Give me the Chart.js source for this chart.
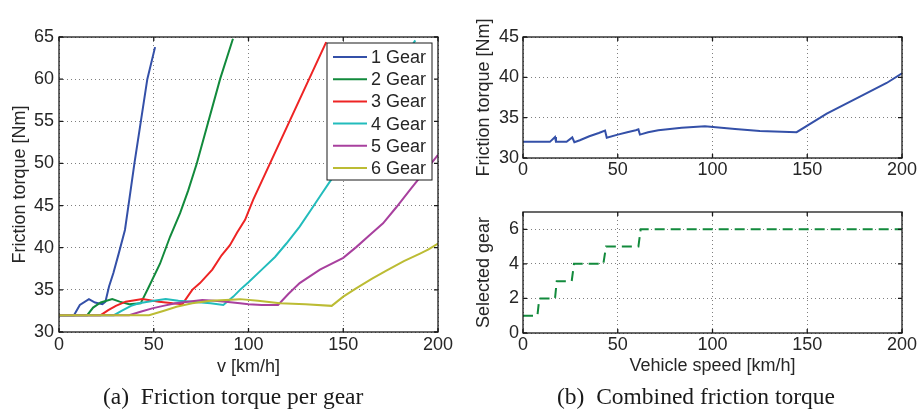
<!DOCTYPE html>
<html lang="en">

<head>
    <meta charset="UTF-8" />
    <title>Friction torque</title>
    <script src="https://cdn.jsdelivr.net/npm/chart.js"></script>
    <style>
        body {
            margin: 0;
            background: #fff;
            width: 917px;
            height: 417px;
            position: relative;
            overflow: hidden;
        }

        canvas {
            position: absolute;
        }

        #perGear { left: 0; top: 0; }
        #combined { left: 460px; top: 0; }
        #selected { left: 460px; top: 180px; }

        .caption {
            position: absolute;
            top: 384px;
            font-family: "Liberation Serif", "Times New Roman", serif;
            font-size: 23.5px;
            line-height: 24px;
            color: #1a1a1a;
            white-space: pre;
        }
    </style>
</head>

<body>
    <canvas id="perGear" width="460" height="390"></canvas>
    <canvas id="combined" width="457" height="200"></canvas>
    <canvas id="selected" width="457" height="210"></canvas>

    <div class="caption" style="left: 103px;">(a)&ensp;Friction torque per gear</div>
    <div class="caption" style="left: 557px;">(b)&ensp;Combined friction torque</div>

    <script>
        // Friction torque per gear [Nm] over vehicle speed [km/h]
        const gearLabels = ["1 Gear", "2 Gear", "3 Gear", "4 Gear", "5 Gear", "6 Gear"];
        const gearColors = ["#3450a8", "#128a3c", "#ee2424", "#22bcbc", "#a8409e", "#bcbc34"];

        const gear1Speed = [0, 7.9, 11, 15.8, 19, 22.9, 24.5, 26.4, 28.7, 31.5, 34.8, 37.1, 39.8, 46.6, 50.7];
        const gear1Torque = [32, 32, 33.2, 33.9, 33.5, 33.3, 33.6, 35.4, 37, 39.3, 42.1, 45.7, 50, 60, 63.8];

        const gear2Speed = [0, 14.9, 18, 22, 28.1, 32, 37, 43.1, 47.5, 53.3, 58.6, 63.9, 68.2, 72.7, 85, 91.8];
        const gear2Torque = [32, 32, 32.9, 33.5, 33.9, 33.6, 33.3, 33.4, 35.4, 38.1, 41.3, 44.1, 46.8, 50, 60, 64.8];

        const gear3Speed = [0, 22, 26, 30, 35.2, 44, 52.8, 60, 65.1, 70.3, 74.4, 80.9, 85.8, 90.2, 94, 98.2, 102.5, 141];
        const gear3Torque = [32, 32, 32.6, 33.1, 33.6, 33.9, 33.6, 33.4, 33.3, 35, 35.8, 37.4, 39.1, 40.3, 41.8, 43.3, 45.7, 64.4];

        const gear4Speed = [0, 29, 33, 38, 42.2, 50, 56.3, 63, 70.3, 80, 86.7, 92, 95.5, 100, 107, 114, 120, 127, 133, 138, 144, 160, 175, 188];
        const gear4Torque = [32, 32, 32.5, 33.1, 33.4, 33.7, 33.9, 33.7, 33.6, 33.4, 33.2, 34.2, 35, 35.9, 37.4, 38.9, 40.5, 42.5, 44.5, 46.2, 48.2, 54.2, 59.8, 64.6];

        const gear5Speed = [0, 37, 43, 49.2, 55, 61.5, 68, 75.6, 82, 88, 95.5, 100, 107, 115.6, 121, 127, 137.7, 150, 157, 164, 171, 178, 185, 191, 200];
        const gear5Torque = [32, 32, 32.4, 32.8, 33.1, 33.4, 33.6, 33.8, 33.7, 33.6, 33.4, 33.3, 33.2, 33.2, 34.5, 35.8, 37.4, 38.8, 40.1, 41.5, 42.9, 44.8, 46.8, 48.5, 51];

        const gear6Speed = [0, 47.5, 55, 62, 70.3, 80, 88, 95.5, 105, 116.6, 130, 143.9, 150, 157, 165, 173, 182, 190.5, 195, 200];
        const gear6Torque = [32, 32, 32.5, 33, 33.4, 33.7, 33.8, 33.9, 33.7, 33.4, 33.3, 33.1, 34.2, 35.2, 36.3, 37.3, 38.4, 39.3, 39.8, 40.5];

        // Friction torque with the selected gear
        const combinedSpeed = [0, 14.2, 16.9, 17.4, 23, 26, 27.1, 30, 35, 40, 43.3, 44.2, 50, 55, 59.5, 60.9, 61.7, 66, 71.4, 83.7, 96, 111.9, 125, 144.4, 160.3, 177.8, 191.9, 200];
        const combinedTorque = [32, 32, 32.6, 32, 32, 32.55, 31.95, 32.2, 32.7, 33.1, 33.4, 32.5, 32.9, 33.2, 33.45, 33.55, 32.9, 33.2, 33.45, 33.75, 33.95, 33.6, 33.35, 33.2, 35.5, 37.6, 39.3, 40.5];

        // Selected gear over vehicle speed
        const selectedSpeed = [0, 7.6, 8.6, 16.9, 17.8, 25.7, 26.9, 42.4, 43.8, 60.9, 62.1, 200];
        const selectedGear = [1, 1, 2, 2, 3, 3, 4, 4, 5, 5, 6, 6];

        // Tick labels
        const speedTicks = [0, 50, 100, 150, 200];
        const torqueTicks = [30, 35, 40, 45, 50, 55, 60, 65];
        const combinedTicks = [30, 35, 40, 45];
        const gearTicks = [0, 2, 4, 6];

        const FONT = { family: "'Liberation Sans', Arial, sans-serif", size: 18 };
        const TEXT = "#262626";

        const pairs = (xs, ys) => xs.map((x, i) => ({ x: x, y: ys[i] }));

        // linear axis with fixed size and dotted grid
        function axis(o) {
            return {
                type: "linear",
                min: o.min,
                max: o.max,
                afterBuildTicks: s => { s.ticks = o.ticks.map(v => ({ value: v })); },
                afterFit: s => {
                    if (o.width) s.width = o.width;
                    if (o.height) s.height = o.height;
                    s.paddingLeft = s.paddingRight = s.paddingTop = s.paddingBottom = 0;
                },
                grid: { color: "rgba(0,0,0,0.5)", lineWidth: 1, drawTicks: false },
                border: { display: false, dash: [1, 3] },
                ticks: { color: TEXT, font: FONT, padding: o.pad },
                title: o.title
                    ? { display: true, text: o.title, color: TEXT, font: FONT, padding: o.titlePad }
                    : { display: false }
            };
        }

        // box around the plot with small inward ticks
        const frame = {
            id: "frame",
            afterDraw(chart) {
                const { ctx, chartArea: a, scales: { x, y } } = chart;
                ctx.save();
                ctx.strokeStyle = "#1a1a1a";
                ctx.lineWidth = 1.3;
                ctx.strokeRect(a.left, a.top, a.right - a.left, a.bottom - a.top);
                ctx.beginPath();
                x.ticks.forEach(t => {
                    const p = x.getPixelForValue(t.value);
                    ctx.moveTo(p, a.bottom); ctx.lineTo(p, a.bottom - 4);
                    ctx.moveTo(p, a.top); ctx.lineTo(p, a.top + 4);
                });
                y.ticks.forEach(t => {
                    const p = y.getPixelForValue(t.value);
                    ctx.moveTo(a.left, p); ctx.lineTo(a.left + 4, p);
                    ctx.moveTo(a.right, p); ctx.lineTo(a.right - 4, p);
                });
                ctx.stroke();
                ctx.restore();
            }
        };

        // boxed legend in the upper right corner of the plot
        const gearLegend = {
            id: "gearLegend",
            afterDraw(chart) {
                const { ctx, chartArea: a } = chart;
                const sets = chart.data.datasets;
                const w = 105, rowH = 22.2, h = 137;
                const x0 = a.right - 6 - w, y0 = a.top + 6;
                ctx.save();
                ctx.fillStyle = "#fff";
                ctx.fillRect(x0, y0, w, h);
                ctx.strokeStyle = "#1a1a1a";
                ctx.lineWidth = 1;
                ctx.strokeRect(x0, y0, w, h);
                ctx.font = "18px " + FONT.family;
                ctx.textBaseline = "middle";
                sets.forEach((ds, i) => {
                    const yy = y0 + 14 + i * rowH;
                    ctx.strokeStyle = ds.borderColor;
                    ctx.lineWidth = 2;
                    ctx.beginPath();
                    ctx.moveTo(x0 + 6, yy);
                    ctx.lineTo(x0 + 40, yy);
                    ctx.stroke();
                    ctx.fillStyle = TEXT;
                    ctx.fillText(ds.label, x0 + 44, yy + 1);
                });
                ctx.restore();
            }
        };

        const gearSpeeds = [gear1Speed, gear2Speed, gear3Speed, gear4Speed, gear5Speed, gear6Speed];
        const gearTorques = [gear1Torque, gear2Torque, gear3Torque, gear4Torque, gear5Torque, gear6Torque];

        // (a) one line per gear
        new Chart(document.getElementById("perGear"), {
            type: "line",
            data: {
                datasets: gearLabels.map((label, i) => ({
                    label: label,
                    data: pairs(gearSpeeds[i], gearTorques[i]),
                    borderColor: gearColors[i],
                    borderWidth: 2,
                    pointRadius: 0,
                    tension: 0,
                    order: gearLabels.length - i
                }))
            },
            options: {
                responsive: false,
                animation: false,
                layout: { padding: { top: 37, right: 22, left: 0, bottom: 0 } },
                plugins: { legend: { display: false }, tooltip: { enabled: false } },
                scales: {
                    x: axis({ min: 0, max: 200, ticks: speedTicks, height: 58, pad: 2, title: "v [km/h]", titlePad: { top: 0, bottom: 12 } }),
                    y: axis({ min: 30, max: 65, ticks: torqueTicks, width: 59, pad: 5, title: "Friction torque [Nm]", titlePad: { top: 9 } })
                }
            },
            plugins: [frame, gearLegend]
        });

        // (b) top: combined friction torque
        new Chart(document.getElementById("combined"), {
            type: "line",
            data: {
                datasets: [{
                    data: pairs(combinedSpeed, combinedTorque),
                    borderColor: "#3450a8",
                    borderWidth: 2,
                    pointRadius: 0,
                    tension: 0
                }]
            },
            options: {
                responsive: false,
                animation: false,
                layout: { padding: { top: 37, right: 15, left: 0, bottom: 0 } },
                plugins: { legend: { display: false }, tooltip: { enabled: false } },
                scales: {
                    x: axis({ min: 0, max: 200, ticks: speedTicks, height: 42, pad: 1 }),
                    y: axis({ min: 30, max: 45, ticks: combinedTicks, width: 63, pad: 4, title: "Friction torque [Nm]", titlePad: { top: 13 } })
                }
            },
            plugins: [frame]
        });

        // (b) bottom: selected gear
        new Chart(document.getElementById("selected"), {
            type: "line",
            data: {
                datasets: [{
                    data: pairs(selectedSpeed, selectedGear),
                    borderColor: "#128a3c",
                    borderWidth: 2,
                    borderDash: [10, 6],
                    pointRadius: 0,
                    tension: 0
                }]
            },
            options: {
                responsive: false,
                animation: false,
                layout: { padding: { top: 32, right: 15, left: 0, bottom: 0 } },
                plugins: { legend: { display: false }, tooltip: { enabled: false } },
                scales: {
                    x: axis({ min: 0, max: 200, ticks: speedTicks, height: 57, pad: 1, title: "Vehicle speed [km/h]", titlePad: { top: 0, bottom: 13 } }),
                    y: axis({ min: 0, max: 7, ticks: gearTicks, width: 63, pad: 4, title: "Selected gear", titlePad: { top: 13 } })
                }
            },
            plugins: [frame]
        });
    </script>
</body>

</html>
